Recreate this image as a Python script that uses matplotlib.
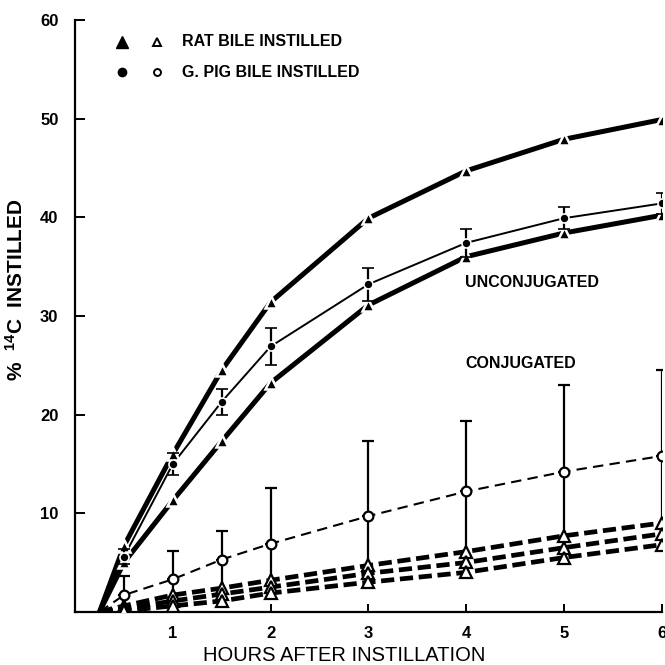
import numpy as np
import matplotlib
matplotlib.use("Agg")
import matplotlib.pyplot as plt

plt.rcParams['font.family'] = ['Liberation Sans', 'DejaVu Sans']
plt.rcParams['mathtext.default'] = 'regular'

# hours after instillation (curves start from zero at 0.25 h)
hours = np.array([0.25, 0.5, 1, 1.5, 2, 3, 4, 5, 6])

# unconjugated
rat_unconj_hi = np.array([0, 6.7, 16.0, 24.5, 31.4, 39.9, 44.7, 47.9, 49.9])
rat_unconj_lo = np.array([0, 5.0, 11.3, 17.3, 23.2, 31.1, 36.0, 38.4, 40.2])
gp_unconj = np.array([0, 5.6, 15.0, 21.3, 26.9, 33.2, 37.4, 39.9, 41.4])
gp_unconj_sd = np.array([0, 0.8, 1.1, 1.3, 1.9, 1.7, 1.4, 1.1, 1.1])

# conjugated
gp_conj = np.array([0, 1.7, 3.3, 5.3, 6.9, 9.7, 12.2, 14.2, 15.8])
gp_conj_sd = np.array([0, 1.9, 2.9, 2.9, 5.7, 7.6, 7.1, 8.8, 8.7])
rat_conj_a = np.array([0, 0.6, 1.7, 2.4, 3.2, 4.7, 6.1, 7.7, 9.0])
rat_conj_b = np.array([0, 0.3, 1.1, 1.8, 2.5, 3.9, 5.0, 6.5, 7.9])
rat_conj_c = np.array([0, 0.1, 0.6, 1.1, 1.9, 3.0, 4.0, 5.5, 6.8])

xticks = [1, 2, 3, 4, 5, 6]
yticks = [10, 20, 30, 40, 50, 60]

fig = plt.figure(figsize=(6.65, 6.65), dpi=100)
ax = fig.add_axes([0.113, 0.080, 0.882, 0.890])

# thick solid rat curves
for ys in (rat_unconj_hi, rat_unconj_lo):
    ax.plot(hours, ys, color='black', lw=3.6, solid_capstyle='butt', zorder=3)
    ax.plot(hours[1:], ys[1:], ls='none', marker='^', ms=8, mfc='black',
            mec='white', mew=1.8, zorder=5)

# guinea pig unconjugated, thin line with error bars
ax.plot(hours, gp_unconj, color='black', lw=1.4, zorder=3)
ax.errorbar(hours[1:], gp_unconj[1:], yerr=gp_unconj_sd[1:], fmt='o', ms=6.5,
            mfc='black', mec='white', mew=1.2, ecolor='black', elinewidth=1.6,
            capsize=4.5, capthick=1.6, zorder=6)

# rat conjugated, thick dashed
for ys in (rat_conj_a, rat_conj_b, rat_conj_c):
    ax.plot(hours, ys, color='black', lw=3.4, dashes=(2.8, 1.2), zorder=3)
    ax.plot(hours[1:], ys[1:], ls='none', marker='^', ms=8.5, mfc='white',
            mec='black', mew=1.6, zorder=5)

# guinea pig conjugated, thin dashed with upper error bars
ax.plot(hours, gp_conj, color='black', lw=1.5, dashes=(5, 3), zorder=3)
ax.vlines(hours[1:], rat_conj_c[1:], gp_conj[1:], color='black', lw=1.6, zorder=2)
ax.errorbar(hours[1:], gp_conj[1:], yerr=[np.zeros(8), gp_conj_sd[1:]], fmt='o',
            ms=7, mfc='white', mec='black', mew=1.6, ecolor='black',
            elinewidth=1.6, capsize=4.5, capthick=1.6, zorder=6)

ax.set_xlim(0, 6)
ax.set_ylim(0, 60)
ax.spines['top'].set_visible(False)
ax.spines['right'].set_visible(False)
ax.spines['left'].set_linewidth(1.6)
ax.spines['bottom'].set_linewidth(1.6)
ax.set_xticks(xticks)
ax.set_yticks(yticks)
ax.set_xticklabels([str(t) for t in xticks], fontsize=12, fontweight='bold')
ax.set_yticklabels([str(t) for t in yticks], fontsize=12, fontweight='bold')
ax.tick_params(axis='y', direction='in', length=7, width=1.4, pad=12)
ax.tick_params(axis='x', direction='in', length=6, width=1.4, pad=10)
ax.spines['bottom'].set_clip_on(False)

ax.set_xlabel('HOURS AFTER INSTILLATION', fontsize=14.5,
              family=['Liberation Sans Narrow', 'Liberation Sans'])
ax.xaxis.set_label_coords(0.458, -0.058)
ax.set_ylabel('%  $^{14}$C  INSTILLED', fontsize=15, fontweight='bold')
ax.yaxis.set_label_coords(-0.082, 0.544)

# legend drawn by hand
ax.plot([0.080], [0.963], marker='^', ms=8, color='black', ls='none',
        transform=ax.transAxes, clip_on=False)
ax.plot([0.140], [0.963], marker='^', ms=6, mfc='white', mec='black', mew=1.4,
        ls='none', transform=ax.transAxes, clip_on=False)
ax.plot([0.080], [0.912], marker='o', ms=6, color='black', ls='none',
        transform=ax.transAxes, clip_on=False)
ax.plot([0.140], [0.912], marker='o', ms=5, mfc='white', mec='black', mew=1.4,
        ls='none', transform=ax.transAxes, clip_on=False)
ax.text(0.182, 0.963, 'RAT BILE INSTILLED', transform=ax.transAxes,
        fontsize=11.5, fontweight='bold', va='center')
ax.text(0.182, 0.912, 'G. PIG BILE INSTILLED', transform=ax.transAxes,
        fontsize=11.5, fontweight='bold', va='center')

ax.text(3.99, 33.4, 'UNCONJUGATED', fontsize=11.5, fontweight='bold', va='center')
ax.text(3.99, 25.2, 'CONJUGATED', fontsize=11.5, fontweight='bold', va='center')

fig.savefig('out.png', dpi=100)
